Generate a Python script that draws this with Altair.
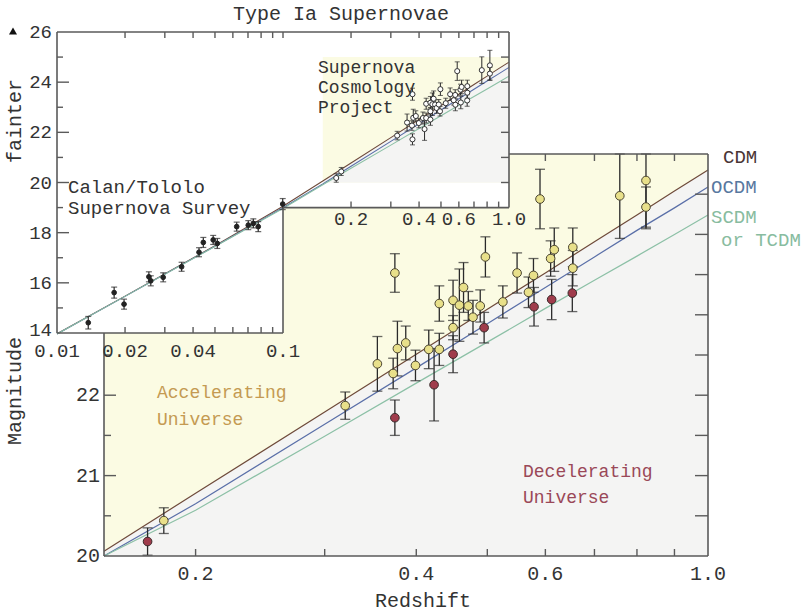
import altair as alt
import pandas as pd

FONT = "Liberation Mono"
INK = "#333333"
FRAME = "#5a5a5a"
YELLOW = "#fbfbe3"
GRAY = "#f4f4f3"
C_CDM = "#6e4a3a"
C_OCDM = "#5a6fa8"
C_SCDM = "#8cc0a6"

# ---------------- data ----------------
model_z = [0.01, 0.02, 0.05, 0.1, 0.15, 0.2, 0.3, 0.4, 0.5, 0.6, 0.7, 0.8, 0.9, 1.0]
cdm_mag = [13.97, 15.47, 17.48, 19.05, 20.06, 20.78, 21.79, 22.51, 23.07, 23.52, 23.91, 24.24, 24.54, 24.80]
ocdm_mag = [13.96, 15.46, 17.46, 18.99, 19.94, 20.65, 21.64, 22.34, 22.89, 23.34, 23.72, 24.05, 24.33, 24.59]
scdm_mag = [13.96, 15.46, 17.45, 18.96, 19.91, 20.57, 21.49, 22.15, 22.66, 23.08, 23.43, 23.73, 24.00, 24.24]

# Supernova Cosmology Project (yellow points)
scp_z = [0.181, 0.320, 0.354, 0.372, 0.374, 0.377, 0.387, 0.399, 0.416, 0.430, 0.430,
         0.449, 0.449, 0.458, 0.464, 0.471, 0.478, 0.489, 0.497, 0.525, 0.549, 0.569,
         0.578, 0.590, 0.610, 0.617, 0.654, 0.654, 0.758, 0.823, 0.823]
scp_mag = [20.44, 21.87, 22.39, 22.27, 23.52, 22.58, 22.65, 22.37, 22.57, 22.57, 23.14,
           23.18, 22.84, 23.12, 23.34, 23.11, 22.97, 23.11, 23.72, 23.16, 23.52, 23.28,
           23.49, 24.44, 23.70, 23.81, 23.84, 23.58, 24.48, 24.67, 24.34]
scp_err = [0.16, 0.17, 0.34, 0.19, 0.24, 0.34, 0.21, 0.19, 0.24, 0.20, 0.22,
           0.25, 0.15, 0.45, 0.31, 0.18, 0.21, 0.20, 0.25, 0.20, 0.25, 0.19,
           0.21, 0.37, 0.22, 0.27, 0.24, 0.22, 0.53, 0.60, 0.25]

# red points
red_z = [0.172, 0.374, 0.423, 0.449, 0.495, 0.579, 0.612, 0.653]
red_mag = [20.18, 21.72, 22.13, 22.51, 22.84, 23.10, 23.19, 23.27]
red_err = [0.17, 0.22, 0.45, 0.23, 0.19, 0.24, 0.25, 0.23]

# Calan/Tololo Supernova Survey
ct_z = [0.01375, 0.0179, 0.0198, 0.0255, 0.0260, 0.0295, 0.0356, 0.0425, 0.0444,
        0.0491, 0.0512, 0.0624, 0.0702, 0.0739, 0.0777, 0.0997]
ct_mag = [14.41, 15.61, 15.15, 16.24, 16.08, 16.22, 16.64, 17.22, 17.61,
          17.71, 17.57, 18.24, 18.30, 18.37, 18.24, 19.14]
ct_err = [0.25, 0.22, 0.20, 0.20, 0.20, 0.18, 0.18, 0.18, 0.20,
          0.18, 0.20, 0.18, 0.18, 0.18, 0.20, 0.22]

# axes
main_x_ticks = [0.2, 0.3, 0.4, 0.5, 0.6, 0.7, 0.8, 0.9]
main_x_labels = [0.2, 0.4, 0.6, 1.0]
main_x_text = ["0.2", "0.4", "0.6", "1.0"]
main_y_major = [21, 22, 23, 24]
main_y_minor = [20.5, 21.5, 22.5, 23.5, 24.5]
main_y_labels = [20, 21, 22]
main_y_text = ["20", "21", "22"]

in_x_ticks_top = [0.02, 0.03, 0.04, 0.05, 0.06, 0.07, 0.08, 0.09, 0.1,
                  0.2, 0.3, 0.4, 0.5, 0.6, 0.7, 0.8, 0.9]
in_x_ticks_low = [0.02, 0.03, 0.04, 0.05, 0.06, 0.07, 0.08, 0.09]
in_x_ticks_high = [0.2, 0.3, 0.4, 0.5, 0.6, 0.7, 0.8, 0.9]
in_x_labels_low = [0.01, 0.02, 0.04, 0.1]
in_x_text_low = ["0.01", "0.02", "0.04", "0.1"]
in_x_labels_high = [0.2, 0.4, 0.6, 1.0]
in_x_text_high = ["0.2", "0.4", "0.6", "1.0"]
in_y_major = [16, 18, 20, 22, 24]
in_y_minor = [15, 17, 19, 21, 23, 25]
in_y_labels = [16, 18, 20, 22, 24, 26]
in_y_text = ["16", "18", "20", "22", "24", "26"]
in_y_bottom_label = [14]
in_y_bottom_text = ["14"]
in_y_right = [20, 21, 22, 23, 24, 25]

# ---------------- scales ----------------
MX = alt.Scale(type="log", domain=[0.15, 1.0], range=[104, 708], nice=False, clamp=True)
MY = alt.Scale(type="linear", domain=[20, 25], range=[556, 154], nice=False, zero=False, clamp=True)
IX = alt.Scale(type="log", domain=[0.01, 1.0], range=[57, 509], nice=False)
IY = alt.Scale(type="linear", domain=[14, 26], range=[333, 32], nice=False, zero=False)


def X(f, s):
    return alt.X(f, scale=s, axis=None)


def Y(f, s):
    return alt.Y(f, scale=s, axis=None)


def rect(x0, x1, y0, y1, sx, sy, color):
    df = pd.DataFrame({"x": [x0], "x2": [x1], "y": [y0], "y2": [y1]})
    return alt.Chart(df).mark_rect(color=color).encode(
        x=X("x:Q", sx), x2="x2:Q", y=Y("y:Q", sy), y2="y2:Q")


def segments(rows, sx, sy, color=FRAME, width=1.6):
    df = pd.DataFrame(rows, columns=["x", "x2", "y", "y2"])
    return alt.Chart(df).mark_rule(color=color, strokeWidth=width).encode(
        x=X("x:Q", sx), x2="x2:Q", y=Y("y:Q", sy), y2="y2:Q")


def xticks(vals, at, sx, sy, length):
    df = pd.DataFrame({"v": vals, "a": [at] * len(vals)})
    return alt.Chart(df).mark_rule(color=FRAME, strokeWidth=1.4, y2Offset=length).encode(
        x=X("v:Q", sx), y=Y("a:Q", sy), y2="a:Q")


def yticks(vals, at, sx, sy, length):
    df = pd.DataFrame({"v": vals, "a": [at] * len(vals)})
    return alt.Chart(df).mark_rule(color=FRAME, strokeWidth=1.4, x2Offset=length).encode(
        y=Y("v:Q", sy), x=X("a:Q", sx), x2="a:Q")


def xlabels(vals, texts, at, sx, sy, dy, size):
    df = pd.DataFrame({"v": vals, "a": [at] * len(vals), "t": texts})
    return alt.Chart(df).mark_text(font=FONT, fontSize=size, color=INK, dy=dy,
                                   baseline="middle", align="center").encode(
        x=X("v:Q", sx), y=Y("a:Q", sy), text="t:N")


def ylabels(vals, texts, at, sx, sy, dx, size, dy=0):
    df = pd.DataFrame({"v": vals, "a": [at] * len(vals), "t": texts})
    return alt.Chart(df).mark_text(font=FONT, fontSize=size, color=INK, dx=dx, dy=dy,
                                   baseline="middle", align="right").encode(
        y=Y("v:Q", sy), x=X("a:Q", sx), text="t:N")


def errbars(zs, ms, es, sx, sy, cap, width=1.3, color="#2a2a2a"):
    df = pd.DataFrame({"z": zs, "lo": [m - e for m, e in zip(ms, es)],
                       "hi": [m + e for m, e in zip(ms, es)]})
    bar = alt.Chart(df).mark_rule(color=color, strokeWidth=width).encode(
        x=X("z:Q", sx), y=Y("lo:Q", sy), y2="hi:Q")
    c1 = alt.Chart(df).mark_tick(color=color, orient="horizontal", size=cap, thickness=width).encode(
        x=X("z:Q", sx), y=Y("lo:Q", sy))
    c2 = alt.Chart(df).mark_tick(color=color, orient="horizontal", size=cap, thickness=width).encode(
        x=X("z:Q", sx), y=Y("hi:Q", sy))
    return [bar, c1, c2]


def points(zs, ms, sx, sy, fill, stroke, size, sw=1.0):
    df = pd.DataFrame({"z": zs, "m": ms})
    return alt.Chart(df).mark_point(shape="circle", filled=True, fill=fill, stroke=stroke,
                                    strokeWidth=sw, size=size, opacity=1).encode(
        x=X("z:Q", sx), y=Y("m:Q", sy))


def model_lines(zmin, sx, sy, width=1.2):
    rows = []
    for name, mags in (("CDM", cdm_mag), ("OCDM", ocdm_mag), ("SCDM", scdm_mag)):
        for z, m in zip(model_z, mags):
            if z >= zmin:
                rows.append({"z": z, "m": m, "model": name})
    df = pd.DataFrame(rows)
    return alt.Chart(df).mark_line(strokeWidth=width).encode(
        x=X("z:Q", sx), y=Y("m:Q", sy),
        color=alt.Color("model:N", legend=None,
                        scale=alt.Scale(domain=["CDM", "OCDM", "SCDM"], range=[C_CDM, C_OCDM, C_SCDM])),
        detail="model:N")


def shade_area(sx, sy):
    df = pd.DataFrame({"z": [z for z in model_z if z >= 0.15],
                       "m": [m for z, m in zip(model_z, cdm_mag) if z >= 0.15]})
    df["base"] = 20
    return alt.Chart(df).mark_area(color=GRAY, opacity=1).encode(
        x=X("z:Q", sx), y=Y("m:Q", sy), y2="base:Q")


def txt(s, x, y, size=20, color=INK, align="left", angle=0):
    return alt.Chart(pd.DataFrame({"t": [s]})).mark_text(
        font=FONT, fontSize=size, color=color, align=align, baseline="middle", angle=angle).encode(
        x=alt.value(x), y=alt.value(y), text="t:N")


layers = []

# ---------------- main panel ----------------
layers.append(rect(0.15, 1.0, 20, 25, MX, MY, YELLOW))
layers.append(shade_area(MX, MY))
layers.append(model_lines(0.15, MX, MY))
layers += errbars(red_z, red_mag, red_err, MX, MY, 10)
layers += errbars(scp_z, scp_mag, scp_err, MX, MY, 10)
layers.append(points(red_z, red_mag, MX, MY, "#a03c4c", "#3a2a2a", 75))
layers.append(points(scp_z, scp_mag, MX, MY, "#e8e08a", "#4a4430", 75))
layers.append(segments([[0.15, 1.0, 20, 20], [0.15, 1.0, 25, 25],
                        [0.15, 0.15, 20, 25], [1.0, 1.0, 20, 25]], MX, MY))
layers.append(xticks(main_x_ticks, 20, MX, MY, -7))
layers.append(xticks(main_x_ticks, 25, MX, MY, 7))
layers.append(yticks(main_y_major, 0.15, MX, MY, 12))
layers.append(yticks(main_y_minor, 0.15, MX, MY, 7))
layers.append(yticks(main_y_major, 1.0, MX, MY, -13))
layers.append(yticks(main_y_minor, 1.0, MX, MY, -13))
layers.append(xlabels(main_x_labels, main_x_text, 20, MX, MY, 18, 20))
layers.append(ylabels(main_y_labels, main_y_text, 0.15, MX, MY, -4, 20))

# ---------------- inset panel ----------------
layers.append(rect(0.01, 0.1, 14, 26, IX, IY, "white"))
layers.append(rect(0.1, 1.0, 19, 26, IX, IY, "white"))
layers.append(rect(0.15, 1.0, 20, 25, IX, IY, YELLOW))
layers.append(shade_area(IX, IY))
layers.append(model_lines(0.0, IX, IY, 1.1))
layers += errbars(ct_z, ct_mag, ct_err, IX, IY, 6, 1.2)
layers += errbars(scp_z + red_z, scp_mag + red_mag, scp_err + red_err, IX, IY, 5, 1.0)
layers.append(points(ct_z, ct_mag, IX, IY, "#222222", "#222222", 22))
layers.append(points(scp_z + red_z, scp_mag + red_mag, IX, IY, "white", "#333333", 26))
layers.append(segments([[0.01, 1.0, 26, 26], [0.01, 0.01, 14, 26],
                        [0.01, 0.1, 14, 14], [0.1, 0.1, 14, 19],
                        [0.1, 1.0, 19, 19], [1.0, 1.0, 19, 26]], IX, IY))
layers.append(xticks(in_x_ticks_top, 26, IX, IY, 6))
layers.append(xticks(in_x_ticks_low, 14, IX, IY, -6))
layers.append(xticks(in_x_ticks_high, 19, IX, IY, -6))
layers.append(yticks(in_y_major, 0.01, IX, IY, 12))
layers.append(yticks(in_y_minor, 0.01, IX, IY, 6))
layers.append(yticks(in_y_right, 1.0, IX, IY, -8))
layers.append(xlabels(in_x_labels_low, in_x_text_low, 14, IX, IY, 18, 19))
layers.append(xlabels(in_x_labels_high, in_x_text_high, 19, IX, IY, 11, 19))
layers.append(ylabels(in_y_labels, in_y_text, 0.01, IX, IY, -5, 19))
layers.append(ylabels(in_y_bottom_label, in_y_bottom_text, 0.01, IX, IY, -5, 19, dy=-3))

# ---------------- texts ----------------
layers.append(txt("Type Ia Supernovae", 341, 14, 20, align="center"))
layers.append(txt("fainter", 15, 121, 20, align="center", angle=270))
layers.append(alt.Chart(pd.DataFrame({"t": ["up"]})).mark_point(
    shape="triangle-up", filled=True, color="#111111", size=65, opacity=1).encode(
    x=alt.value(13), y=alt.value(31)))
layers.append(txt("Magnitude", 15, 391, 20, align="center", angle=270))
layers.append(txt("Redshift", 423, 601, 20, align="center"))
layers.append(txt("Calan/Tololo", 68, 187, 19))
layers.append(txt("Supernova Survey", 68, 208, 19))
layers.append(txt("Supernova", 318, 68, 18))
layers.append(txt("Cosmology", 318, 88, 18))
layers.append(txt("Project", 318, 108, 18))
layers.append(txt("Accelerating", 157, 393, 18, color="#c49a52"))
layers.append(txt("Universe", 157, 420, 18, color="#c49a52"))
layers.append(txt("Decelerating", 523, 472, 18, color="#9a4858"))
layers.append(txt("Universe", 523, 498, 18, color="#9a4858"))
layers.append(txt("CDM", 723, 157, 19, color="#4a3535"))
layers.append(txt("OCDM", 711, 187, 19, color="#5878a0"))
layers.append(txt("SCDM", 711, 217, 19, color="#88bca0"))
layers.append(txt("or TCDM", 721, 240, 19, color="#88bca0"))

chart = alt.layer(*layers).resolve_scale(
    x="independent", y="independent", color="independent"
).properties(
    width=803, height=614, padding=0,
    autosize=alt.AutoSizeParams(type="none"), background="white"
).configure_view(strokeWidth=0)

chart.save("out.html", embed_options={"renderer": "svg", "actions": False})
